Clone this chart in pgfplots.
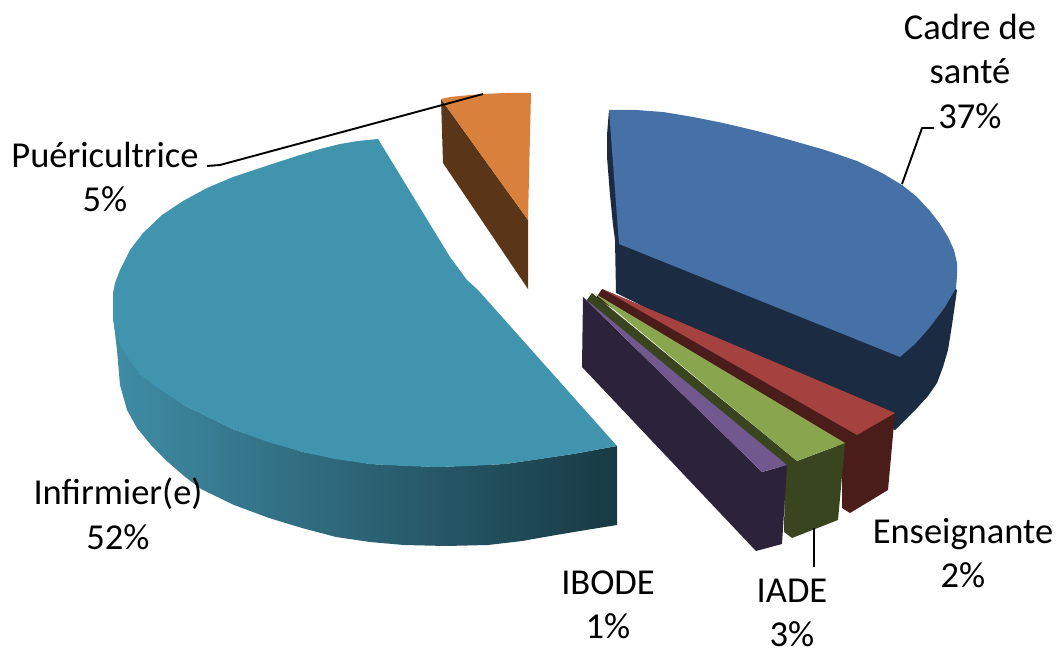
\documentclass[border=0pt]{standalone}
\usepackage{fontspec}
\setmainfont{Carlito}
\usepackage{pgfplots}
\pgfplotsset{compat=1.18}
\definecolor{blueTop}{HTML}{4571A6}
\definecolor{blueSide}{HTML}{1A2B42}
\definecolor{redTop}{HTML}{A5423F}
\definecolor{redSide}{HTML}{4A1C1A}
\definecolor{greenTop}{HTML}{89A54E}
\definecolor{greenSide}{HTML}{38451F}
\definecolor{purpleTop}{HTML}{71588F}
\definecolor{purpleSide}{HTML}{2C223A}
\definecolor{tealTop}{HTML}{4094AE}
\definecolor{tealA}{HTML}{3F8CA5}
\definecolor{tealB}{HTML}{2A6373}
\definecolor{tealC}{HTML}{183A44}
\definecolor{orangeTop}{HTML}{D9813C}
\definecolor{orangeSide}{HTML}{5B3517}
\tikzset{
  lab/.style={font=\fontsize{36.5}{44.5}\selectfont, align=center, text=black, inner sep=0pt},
  lead/.style={draw=black, line width=1.9pt, fill=none},
}
\begin{document}
\begin{tikzpicture}
\begin{axis}[
  scale only axis, width=1058pt, height=650pt,
  xmin=0, xmax=1058, ymin=0, ymax=650, y dir=reverse,
  hide axis, clip=true,
  every axis plot/.append style={no markers, draw=none, line join=round},
]
% Keeps the picture's frame at the full axis size
\path[use as bounding box] (axis cs:0,0) rectangle (axis cs:1058,650);
% Infirmier(e): rim, then top face
\addplot[left color=tealA, middle color=tealB, right color=tealC, draw=none] coordinates {
 (113,310)(114,325)(117,350)(120,385)(127,410)(137,428)(151,445)(168,462)(184,476)(201,489)(234,505)(269,518)
 (302,528)(336,537)(370,542)(404,545)(446,546)(488,545)(522,541)(556,535)(586,530)(617,525)(617,446)
 (573,454)(505,464)(438,467)(370,464)(303,452)(235,430)(184,405)(140,374)};
\addplot[fill=tealTop] coordinates {
 (378,139)(358,141)(340,144)(320,149)(300,155)(266,166)(233,177)(207,188)(183,201)(162,215)(143,233)(130,250)
 (120,270)(115,283)(113,293)(113,307)(113,320)(115,330)(117,337)(123,350)(130,361)(140,374)(155,386)(170,396)
 (184,405)(210,418)(235,430)(268,442)(303,452)(335,459)(370,464)(405,466)(438,467)(470,466)(505,464)(540,459)
 (573,454)(595,450)(617,446)(478,290)(467,280)(450,257)};
% Puéricultrice
\addplot[fill=orangeSide] coordinates {(441,99)(528,220)(528,289)(443,163)};
\addplot[fill=orangeTop] coordinates {
 (441,99)(450,97)(460,96)(471,95)(483,94)(505,93)(531,93)(528,220)};
% Cadre de santé
\addplot[fill=blueSide] coordinates {
 (609,110)(607,135)(607,157)(610,195)(613,225)(615,240)(616,293)(895,430)(905,420)(918,407)(928,396)(937,383)
 (943,367)(948,350)(952,325)(957,290)};
\addplot[fill=blueTop] coordinates {
 (609,110)(636,110)(663,112)(693,117)(723,123)(757,131)(790,140)(825,150)(857,161)(882,173)(902,185)(917,197)
 (930,211)(940,224)(948,237)(954,250)(957,263)(957,276)(956,288)(945,307)(930,327)(915,344)(900,357)(619,244)};
% Enseignante
\addplot[fill=redSide] coordinates {(602,289)(895,413)(888,490)(850,513)(842,508)(842,450)(596,298)};
\addplot[fill=redTop] coordinates {(602,289)(895,413)(857,435)(606,291)};
% IADE
\addplot[fill=greenSide] coordinates {(592,293)(797,461)(845,443)(838,520)(792,538)(784,532)(785,470)(586,301)};
\addplot[fill=greenTop] coordinates {(594,293)(845,443)(797,461)};
% IBODE
\addplot[fill=purpleSide] coordinates {(583,297)(762,472)(787,465)(782,544)(756,551)(582,367)};
\addplot[fill=purpleTop] coordinates {(583,297)(787,465)(762,472)};
% Leader lines
\addplot[lead] coordinates {(902,184)(922,128)(934,128)};
\addplot[lead] coordinates {(483,94)(220,165)(207,166)};
\addplot[lead] coordinates {(814,528)(814,567)};
% Category labels
\node[lab] at (axis cs:970,71) {Cadre de\\santé\\37\%};
\node[lab] at (axis cs:105,177) {Puéricultrice\\5\%};
\node[lab] at (axis cs:118,514) {Infirmier(e)\\52\%};
\node[lab] at (axis cs:608,605) {IBODE\\1\%};
\node[lab] at (axis cs:792,613) {IADE\\3\%};
\node[lab] at (axis cs:963,553) {Enseignante\\2\%};
\end{axis}
\end{tikzpicture}
\end{document}
